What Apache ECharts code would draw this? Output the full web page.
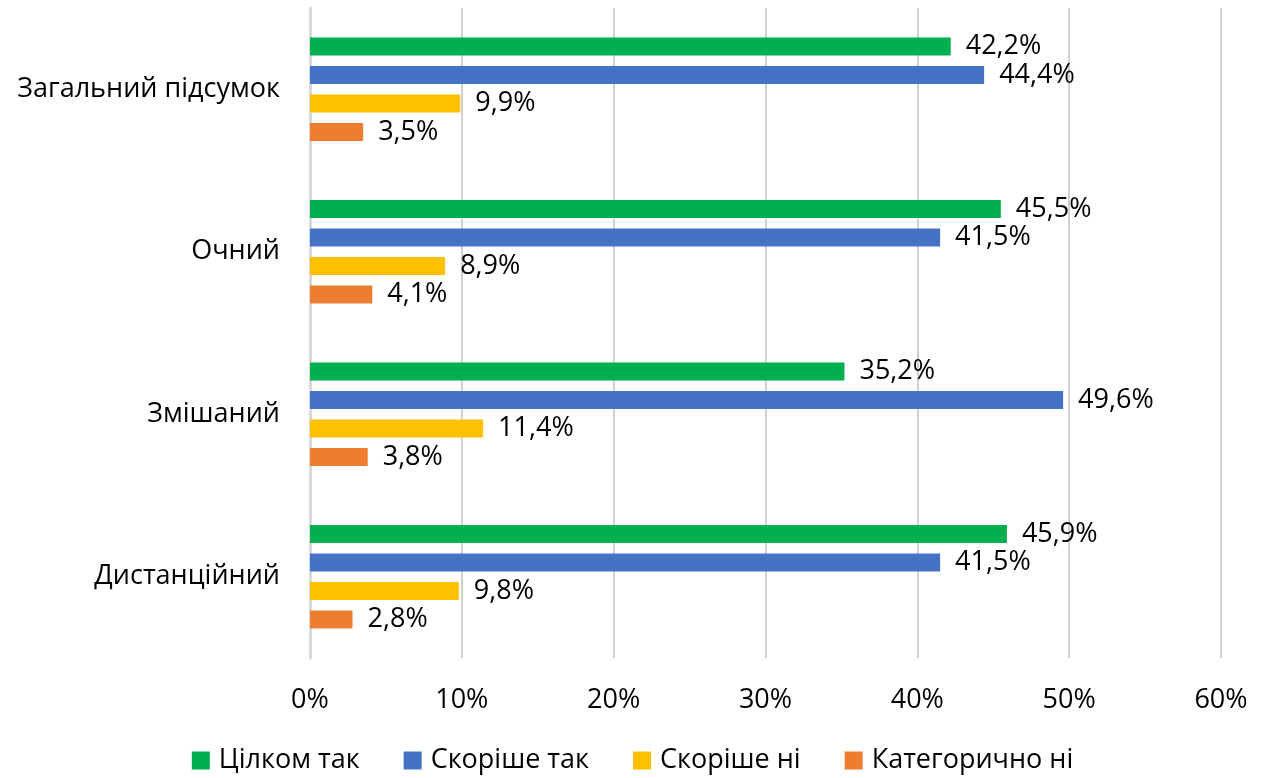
<!DOCTYPE html>
<html>
<head>
<meta charset="utf-8">
<script src="https://cdn.jsdelivr.net/npm/echarts@6/dist/echarts.min.js"></script>
<style>html,body{margin:0;padding:0;background:#fff}#c{width:1265px;height:778px}</style>
</head>
<body>
<div id="c"></div>
<script>
const categories = ['Загальний підсумок', 'Очний', 'Змішаний', 'Дистанційний'];
const seriesNames = ['Цілком так', 'Скоріше так', 'Скоріше ні', 'Категорично ні'];
const valuesTsilkomTak = [42.2, 45.5, 35.2, 45.9];
const valuesSkorisheTak = [44.4, 41.5, 49.6, 41.5];
const valuesSkorisheNi = [9.9, 8.9, 11.4, 9.8];
const valuesKategorychnoNi = [3.5, 4.1, 3.8, 2.8];
const xTicks = [0, 10, 20, 30, 40, 50, 60];

const colors = ['#00B050', '#4472C4', '#FFC000', '#ED7D31'];
const allValues = [valuesTsilkomTak, valuesSkorisheTak, valuesSkorisheNi, valuesKategorychnoNi];
const FONT = 'Open Sans';

const chart = echarts.init(document.getElementById('c'));
chart.setOption({
  animation: false,
  textStyle: { fontFamily: FONT },
  grid: { left: 310, right: 44, top: 8, bottom: 120, containLabel: false },
  legend: {
    top: 742,
    left: 'center',
    itemWidth: 18, itemHeight: 18, itemGap: 44,
    icon: 'rect',
    textStyle: { fontSize: 27, color: '#000', fontFamily: FONT, padding: [0, 0, 0, 4] },
    data: seriesNames
  },
  xAxis: {
    type: 'value',
    min: xTicks[0], max: xTicks[xTicks.length - 1], interval: 10,
    axisLine: { show: false },
    axisTick: { show: false },
    splitLine: { show: true, lineStyle: { color: '#d0d0d0', width: 2 } },
    axisLabel: { fontSize: 27, color: '#000', margin: 29, formatter: v => v + '%' }
  },
  yAxis: {
    type: 'category',
    inverse: true,
    data: categories,
    axisLine: { show: true, lineStyle: { color: '#d9d9d9', width: 3 } },
    axisTick: { show: false },
    axisLabel: { fontSize: 27, color: '#000', margin: 30 }
  },
  series: seriesNames.map((name, i) => ({
    name: name,
    type: 'bar',
    data: allValues[i],
    barWidth: 18,
    barGap: '58%',
    itemStyle: { color: colors[i] },
    label: {
      show: true, position: 'right', distance: 15,
      fontSize: 27, color: '#000', fontFamily: FONT,
      formatter: p => p.value.toFixed(1).replace('.', ',') + '%'
    }
  }))
});
</script>
</body>
</html>
